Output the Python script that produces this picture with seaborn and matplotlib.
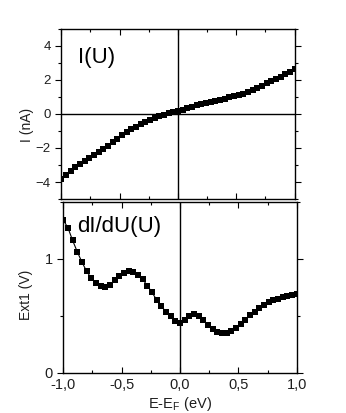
import numpy as np
import pandas as pd
import matplotlib
matplotlib.use("Agg")
import matplotlib.pyplot as plt
from matplotlib.ticker import MultipleLocator, FuncFormatter
import seaborn as sns

# Bias grid (eV relative to the Fermi level)
energy = [-1.00, -0.96, -0.92, -0.88, -0.84, -0.80, -0.76, -0.72, -0.68, -0.64,
          -0.60, -0.56, -0.52, -0.48, -0.44, -0.40, -0.36, -0.32, -0.28, -0.24,
          -0.20, -0.16, -0.12, -0.08, -0.04, 0.00, 0.04, 0.08, 0.12, 0.16,
          0.20, 0.24, 0.28, 0.32, 0.36, 0.40, 0.44, 0.48, 0.52, 0.56,
          0.60, 0.64, 0.68, 0.72, 0.76, 0.80, 0.84, 0.88, 0.92, 0.96, 1.00]

# Tunnelling current I(U) in nA
current = [-3.80, -3.58, -3.36, -3.14, -2.94, -2.76, -2.58, -2.40, -2.22, -2.04,
           -1.86, -1.66, -1.46, -1.26, -1.07, -0.90, -0.75, -0.62, -0.49, -0.35,
           -0.24, -0.13, -0.05, 0.03, 0.10, 0.16, 0.24, 0.33, 0.42, 0.50,
           0.58, 0.65, 0.71, 0.78, 0.84, 0.90, 0.97, 1.03, 1.10, 1.19,
           1.30, 1.42, 1.53, 1.66, 1.79, 1.92, 2.05, 2.18, 2.33, 2.48, 2.63]

# Lock-in signal dI/dU (Ext1, V)
didu = [1.34, 1.27, 1.16, 1.06, 0.97, 0.89, 0.83, 0.785, 0.76, 0.755,
        0.773, 0.81, 0.85, 0.878, 0.89, 0.888, 0.862, 0.82, 0.765, 0.705,
        0.64, 0.585, 0.535, 0.495, 0.455, 0.44, 0.465, 0.495, 0.513, 0.50,
        0.465, 0.42, 0.385, 0.362, 0.352, 0.353, 0.368, 0.393, 0.425, 0.468,
        0.505, 0.535, 0.57, 0.598, 0.62, 0.637, 0.65, 0.662, 0.673, 0.683, 0.693]

x_ticks = [-1.0, -0.5, 0.0, 0.5, 1.0]
i_ticks = [-4, -2, 0, 2, 4]
d_ticks = [0, 1]

df = pd.DataFrame({"E": energy, "I": current, "dIdU": didu})

sns.set_style("ticks")
plt.rcParams["font.family"] = ["Liberation Sans", "DejaVu Sans"]
plt.rcParams["mathtext.fontset"] = "custom"
plt.rcParams["mathtext.rm"] = "Liberation Sans"

fig = plt.figure(figsize=(3.46, 4.13), dpi=100)
ax1 = fig.add_axes([0.177, 0.518, 0.6746, 0.4123])
ax2 = fig.add_axes([0.183, 0.0969, 0.6746, 0.4148])

txt = "#1e1e1e"


def style(ax, fs):
    for s in ax.spines.values():
        s.set_visible(True)
        s.set_linewidth(1.0)
        s.set_color("black")
    ax.tick_params(which="both", top=True, right=True, direction="in",
                   color="black", width=0.8, labelsize=fs, labelcolor=txt)
    ax.tick_params(axis="y", which="both", left=True, direction="out")
    ax.tick_params(axis="y", which="both", right=True)
    ax.tick_params(which="major", length=4)
    ax.tick_params(which="minor", length=2.5)
    ax.xaxis.set_major_locator(MultipleLocator(0.5))
    ax.xaxis.set_minor_locator(MultipleLocator(0.25))
    ax.set_xlim(-1, 1)


# Current panel
sns.lineplot(data=df, x="E", y="I", ax=ax1, color="black", linewidth=0.9,
             marker="s", markersize=4.6, markeredgewidth=0, legend=False)
style(ax1, 9.5)
ax1.set_ylim(-5, 5)
ax1.set_yticks(i_ticks)
ax1.yaxis.set_minor_locator(MultipleLocator(1))
ax1.set_xticks(x_ticks)
ax1.set_xticklabels([])
ax1.axhline(0, color="black", linewidth=1.0, zorder=1)
ax1.axvline(0, color="black", linewidth=1.0, zorder=1)
ax1.set_xlabel("")
ax1.set_ylabel("I (nA)", fontsize=10, color=txt)
ax1.yaxis.set_label_coords(-0.117, 0.437)
ax1.text(0.072, 0.80, "I(U)", transform=ax1.transAxes, fontsize=16,
         va="baseline", ha="left", color="black")

# Differential conductance panel
sns.lineplot(data=df, x="E", y="dIdU", ax=ax2, color="black", linewidth=0.8,
             marker="s", markersize=3.9, markeredgewidth=0, legend=False)
style(ax2, 10.5)
ax2.set_ylim(0, 1.5)
ax2.set_yticks(d_ticks)
ax2.yaxis.set_minor_locator(MultipleLocator(0.5))
ax2.set_xticks(x_ticks)
ax2.xaxis.set_major_formatter(FuncFormatter(lambda v, p: f"{v:.1f}".replace(".", ",")))
ax2.axvline(0, color="black", linewidth=1.0, zorder=1)
ax2.set_xlabel(r"E-E$_\mathregular{F}$ (eV)", fontsize=10.5, color=txt, labelpad=2)
ax2.set_ylabel("Ext1 (V)", fontsize=10, color=txt)
ax2.yaxis.set_label_coords(-0.128, 0.455)
ax2.text(0.059, 0.825, "dI/dU(U)", transform=ax2.transAxes, fontsize=16,
         va="baseline", ha="left", color="black")

fig.savefig("out.png", dpi=100)
